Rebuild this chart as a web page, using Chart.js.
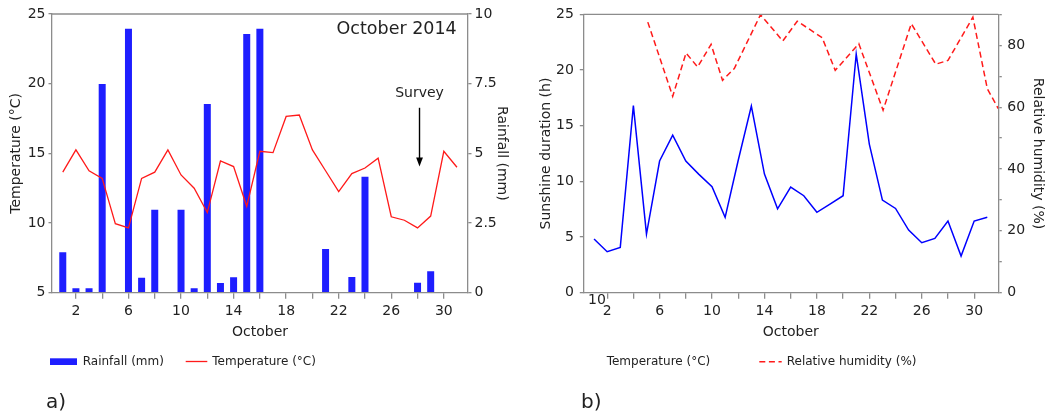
<!DOCTYPE html>
<html><head><meta charset="utf-8">
<script src="https://cdn.jsdelivr.net/npm/chart.js@4/dist/chart.umd.min.js"></script>
<style>
html,body{margin:0;padding:0;background:#fff;}
#wrap{position:relative;width:1051px;height:416px;overflow:hidden;}
canvas{position:absolute;top:0;}
#ca{left:0;} #cb{left:525px;}
</style></head><body>
<div id="wrap"><canvas id="ca" width="525" height="416"></canvas><canvas id="cb" width="526" height="416"></canvas></div>
<script>
// ---- data (October 2014) ----
const days = [1,2,3,4,5,6,7,8,9,10,11,12,13,14,15,16,17,18,19,20,21,22,23,24,25,26,27,28,29,30,31];
const temperature = [13.65,15.25,13.75,13.2,9.95,9.65,13.2,13.65,15.25,13.45,12.5,10.75,14.45,14.05,11.2,15.15,15.05,17.65,17.75,15.25,13.75,12.25,13.55,13.95,14.65,10.45,10.2,9.65,10.5,15.15,14.0];
const rainfall = [1.45,0.16,0.16,7.49,0,9.47,0.54,2.98,0,2.98,0.16,6.77,0.35,0.55,9.28,9.47,0,0,0,0,1.57,0,0.56,4.16,0,0,0,0.36,0.77,0,0];
const sunshine = [4.82,3.68,4.07,16.8,5.27,11.83,14.16,11.83,10.63,9.52,6.77,11.9,16.77,10.66,7.54,9.49,8.71,7.22,7.96,8.71,21.44,13.35,8.32,7.57,5.63,4.49,4.88,6.44,3.29,6.44,6.77];
const humidityDays = [5.1,7.0,8.02,8.9,9.93,10.8,11.7,13.7,15.4,16.5,18.4,19.4,21.2,23.05,25.2,27.07,28.0,29.9,31.0,31.84];
const humidity = [87.5,63.5,77.5,73.0,80.3,68.7,72.5,89.9,81.4,87.8,82.5,71.9,80.5,59.0,87.0,73.9,75.1,89.1,66.0,59.5];
const xTickValues = [2,4,6,8,10,12,14,16,18,20,22,24,26,28,30];
const tempTickValues = [5,10,15,20,25];
const rainTickValues = [0,2.5,5,7.5,10];
const sunTickValues = [0,5,10,15,20,25];
const humTickValues = [0,10,20,30,40,50,60,70,80,90];
const surveyDay = 28.15;

const X_MIN = 0.18, X_MAX = 31.84;
const AXIS = '#8c8c8c';
const TXT = '#222222';
Chart.defaults.font.family = "'DejaVu Sans', sans-serif";
Chart.defaults.font.size = 14;
Chart.defaults.color = TXT;

function xAxis(){
  return {
    type:'linear', min:X_MIN, max:X_MAX, offset:false,
    afterBuildTicks: s => { s.ticks = xTickValues.map(v => ({value:v})); },
    afterFit: s => { s.height = 51.7; },
    ticks:{autoSkip:false, maxRotation:0, padding:4.5, callback: v => (v % 4 === 2 ? String(v) : '')},
    grid:{drawOnChartArea:false, drawTicks:true, tickLength:6, color:AXIS, lineWidth:1.3, offset:false},
    border:{display:true, color:AXIS, width:1.3},
    title:{display:true, text:'October', padding:4}
  };
}
function yAxis(pos, min, max, vals, width, title, pad, cb){
  return {
    type:'linear', position:pos, min:min, max:max,
    afterBuildTicks: s => { s.ticks = vals.map(v => ({value:v})); },
    afterFit: s => { s.width = width; },
    ticks:{autoSkip:false, padding:pad, callback: cb || (v => String(v))},
    grid:{drawOnChartArea:false, drawTicks:true, tickLength:3.5, color:AXIS, lineWidth:1.3},
    border:{display:true, color:AXIS, width:1.3},
    title:{display:true, text:title, padding:4}
  };
}
function topFrame(chart){
  const a = chart.chartArea, ctx = chart.ctx;
  ctx.save(); ctx.strokeStyle = AXIS; ctx.lineWidth = 1.3;
  ctx.beginPath(); ctx.moveTo(a.left, a.top); ctx.lineTo(a.right, a.top); ctx.stroke(); ctx.restore();
}
function txt(ctx, s, x, y, size, align){
  ctx.font = size + "px 'DejaVu Sans', sans-serif";
  ctx.fillStyle = TXT; ctx.textAlign = align || 'left'; ctx.textBaseline = 'middle';
  ctx.fillText(s, x, y);
}

// ---- chart a ----
new Chart(document.getElementById('ca'), {
  type:'bar',
  data:{datasets:[
    {type:'line', label:'Temperature (°C)', data: days.map((d,i)=>({x:d, y:temperature[i]})),
     yAxisID:'y', borderColor:'#ff1a1a', borderWidth:1.3, pointRadius:0, tension:0, order:0},
    {type:'bar', label:'Rainfall (mm)', data: days.map((d,i)=>({x:d, y:rainfall[i]})),
     yAxisID:'y2', backgroundColor:'rgb(30,30,255)', borderWidth:0, inflateAmount:0, barThickness:7, order:1}
  ]},
  options:{
    responsive:false, animation:false, events:[],
    layout:{padding:{left:3.6, top:14, right:10.6, bottom:71.6}},
    plugins:{legend:{display:false}, tooltip:{enabled:false}},
    scales:{
      x: xAxis(),
      y: yAxis('left', 5, 25, tempTickValues, 48.4, 'Temperature (°C)', 3),
      y2: yAxis('right', 0, 10, rainTickValues, 46.4, 'Rainfall (mm)', 3)
    }
  },
  plugins:[{id:'extrasA', afterDraw(chart){
    const ctx = chart.ctx, a = chart.chartArea, xs = chart.scales.x, ys = chart.scales.y;
    topFrame(chart);
    ctx.save();
    txt(ctx, 'October 2014', a.right - 11.3, a.top + 15.3, 17.5, 'right');
    const sx = xs.getPixelForValue(surveyDay);
    txt(ctx, 'Survey', sx, ys.getPixelForValue(19.3), 14, 'center');
    const y0 = ys.getPixelForValue(18.27), y1 = ys.getPixelForValue(14.05);
    ctx.strokeStyle = '#000'; ctx.fillStyle = '#000'; ctx.lineWidth = 1.4;
    ctx.beginPath(); ctx.moveTo(sx, y0); ctx.lineTo(sx, y1 - 8); ctx.stroke();
    ctx.beginPath(); ctx.moveTo(sx - 3.4, y1 - 9); ctx.lineTo(sx + 3.4, y1 - 9); ctx.lineTo(sx, y1); ctx.closePath(); ctx.fill();
    // legend
    ctx.fillStyle = 'rgb(30,30,255)'; ctx.fillRect(50, 358.3, 27, 6.7);
    txt(ctx, 'Rainfall (mm)', 82.7, 361.7, 12);
    ctx.strokeStyle = '#ff1a1a'; ctx.lineWidth = 1.3;
    ctx.beginPath(); ctx.moveTo(185.7, 361.5); ctx.lineTo(207.3, 361.5); ctx.stroke();
    txt(ctx, 'Temperature (°C)', 212.3, 361.7, 12);
    txt(ctx, 'a)', 46, 403, 20);
    ctx.restore();
  }}]
});

// ---- chart b ----
new Chart(document.getElementById('cb'), {
  type:'line',
  data:{datasets:[
    {label:'Temperature (°C)', data: days.map((d,i)=>({x:d, y:sunshine[i]})),
     yAxisID:'y', borderColor:'#0000ff', borderWidth:1.5, pointRadius:0, tension:0},
    {label:'Relative humidity (%)', data: humidityDays.map((d,i)=>({x:d, y:humidity[i]})),
     yAxisID:'y2', borderColor:'#ff1a1a', borderWidth:1.5, borderDash:[6,3.6], pointRadius:0, tension:0}
  ]},
  options:{
    responsive:false, animation:false, events:[],
    layout:{padding:{left:8.6, top:14, right:0.6, bottom:71.6}},
    plugins:{legend:{display:false}, tooltip:{enabled:false}},
    scales:{
      x: xAxis(),
      y: yAxis('left', 0, 25, sunTickValues, 49.7, 'Sunshine duration (h)', 6),
      y2: yAxis('right', 0, 90, humTickValues, 52.1, 'Relative humidity (%)', 5.5, v => (v % 20 === 0 ? String(v) : ''))
    }
  },
  plugins:[{id:'extrasB', afterDraw(chart){
    const ctx = chart.ctx;
    topFrame(chart);
    ctx.save();
    txt(ctx, '10', 72, 300, 14, 'center');
    txt(ctx, 'Temperature (°C)', 81.7, 361.7, 12);
    ctx.strokeStyle = '#ff1a1a'; ctx.lineWidth = 1.5; ctx.setLineDash([6,3.6]);
    ctx.beginPath(); ctx.moveTo(234.3, 361.7); ctx.lineTo(256.7, 361.7); ctx.stroke();
    ctx.setLineDash([]);
    txt(ctx, 'Relative humidity (%)', 261.7, 361.7, 12);
    txt(ctx, 'b)', 56, 403, 20);
    ctx.restore();
  }}]
});
</script>
</body></html>
